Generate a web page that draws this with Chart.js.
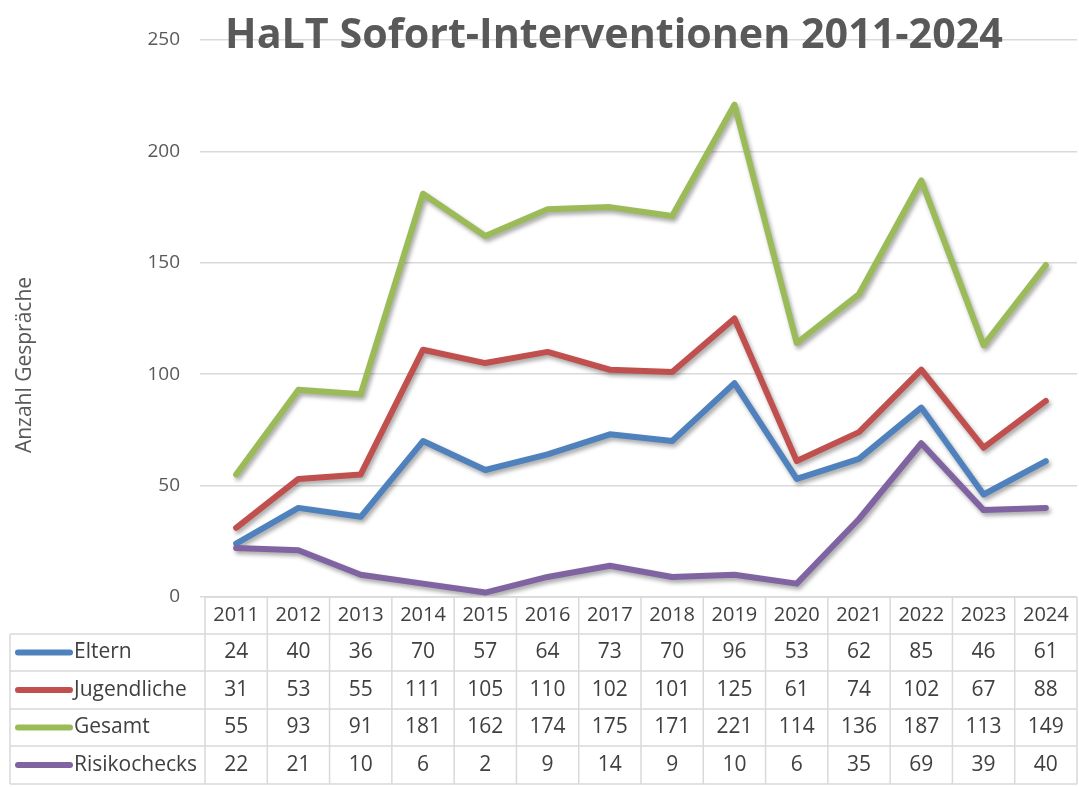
<!DOCTYPE html>
<html>
<head>
<meta charset="utf-8">
<script src="https://cdn.jsdelivr.net/npm/chart.js@4"></script>
<style>
  html, body { margin: 0; padding: 0; background: #fff; }
  #wrap { width: 1079px; height: 787px; }
</style>
</head>
<body>
<div id="wrap"><canvas id="halt" width="1079" height="787"></canvas></div>
<script>
const years = ['2011', '2012', '2013', '2014', '2015', '2016', '2017', '2018', '2019', '2020', '2021', '2022', '2023', '2024'];
const eltern = [24, 40, 36, 70, 57, 64, 73, 70, 96, 53, 62, 85, 46, 61];
const jugendliche = [31, 53, 55, 111, 105, 110, 102, 101, 125, 61, 74, 102, 67, 88];
const gesamt = [55, 93, 91, 181, 162, 174, 175, 171, 221, 114, 136, 187, 113, 149];
const risikochecks = [22, 21, 10, 6, 2, 9, 14, 9, 10, 6, 35, 69, 39, 40];
const yTicks = [0, 50, 100, 150, 200, 250];

const FONT = '"Open Sans", "Noto Sans", sans-serif';
const grey = '#595959';

const seriesInfo = [
  { label: 'Eltern', data: eltern, color: '#4F81BD' },
  { label: 'Jugendliche', data: jugendliche, color: '#C0504D' },
  { label: 'Gesamt', data: gesamt, color: '#9BBB59' },
  { label: 'Risikochecks', data: risikochecks, color: '#8064A2' }
];

// soft shadow under the lines like the Excel original
const lineShadow = {
  id: 'lineShadow',
  beforeDatasetDraw(chart) {
    const ctx = chart.ctx;
    ctx.save();
    ctx.shadowColor = 'rgba(0,0,0,0.35)';
    ctx.shadowBlur = 4;
    ctx.shadowOffsetX = 2;
    ctx.shadowOffsetY = 3;
  },
  afterDatasetDraw(chart) {
    chart.ctx.restore();
  }
};

// title on top of the 250 grid line, y axis title + data table under the plot
const tableAndTitle = {
  id: 'tableAndTitle',
  afterDraw(chart) {
    const ctx = chart.ctx;
    const x = chart.scales.x;
    const area = chart.chartArea;
    const colW = (area.right - area.left) / years.length;
    const tableLeft = 10;
    const rows = [597, 634, 671, 709, 746, 784];

    ctx.save();
    // title
    let size = 42;
    ctx.font = 'bold ' + size + 'px ' + FONT;
    const w = ctx.measureText('HaLT Sofort-Interventionen 2011-2024').width;
    size = size * 778 / w;
    ctx.font = 'bold ' + size + 'px ' + FONT;
    ctx.fillStyle = grey;
    ctx.textAlign = 'center';
    ctx.textBaseline = 'middle';
    ctx.fillText('HaLT Sofort-Interventionen 2011-2024', 614, 36);

    // y axis title
    ctx.save();
    ctx.translate(25, 365);
    ctx.rotate(-Math.PI / 2);
    ctx.font = '21px ' + FONT;
    ctx.fillStyle = grey;
    ctx.fillText('Anzahl Gespräche', 0, 0);
    ctx.restore();

    // grid of the table
    ctx.strokeStyle = '#d9d9d9';
    ctx.lineWidth = 1.5;
    ctx.beginPath();
    ctx.moveTo(area.left, rows[0]);
    ctx.lineTo(area.right, rows[0]);
    for (let r = 1; r < rows.length; r++) {
      ctx.moveTo(tableLeft, rows[r]);
      ctx.lineTo(area.right, rows[r]);
    }
    ctx.moveTo(tableLeft, rows[1]);
    ctx.lineTo(tableLeft, rows[rows.length - 1]);
    for (let i = 0; i <= years.length; i++) {
      const cx = area.left + i * colW;
      ctx.moveTo(cx, rows[0]);
      ctx.lineTo(cx, rows[rows.length - 1]);
    }
    ctx.stroke();

    // header years
    ctx.font = '20px ' + FONT;
    ctx.fillStyle = '#404040';
    ctx.textAlign = 'center';
    years.forEach((yr, i) => {
      ctx.fillText(yr, x.getPixelForValue(i), (rows[0] + rows[1]) / 2);
    });

    // series rows
    seriesInfo.forEach((s, r) => {
      const cy = (rows[r + 1] + rows[r + 2]) / 2;
      ctx.strokeStyle = s.color;
      ctx.lineWidth = 6;
      ctx.lineCap = 'round';
      ctx.beginPath();
      ctx.moveTo(18, cy);
      ctx.lineTo(70, cy);
      ctx.stroke();
      ctx.textAlign = 'left';
      ctx.fillStyle = '#404040';
      ctx.font = '21px ' + FONT;
      ctx.fillText(s.label, 74, cy);
      ctx.textAlign = 'center';
      s.data.forEach((v, i) => {
        ctx.fillText(String(v), x.getPixelForValue(i), cy);
      });
    });
    ctx.restore();
  }
};

new Chart(document.getElementById('halt'), {
  type: 'line',
  data: {
    labels: years,
    datasets: seriesInfo.map((s, i) => ({
      label: s.label,
      data: s.data,
      borderColor: s.color,
      backgroundColor: s.color,
      borderWidth: 6,
      pointRadius: 0,
      tension: 0,
      borderCapStyle: 'round',
      borderJoinStyle: 'round',
      order: seriesInfo.length - 1 - i
    }))
  },
  options: {
    responsive: false,
    animation: false,
    layout: { padding: { top: 40, bottom: 190, right: 2, left: 0 } },
    plugins: {
      legend: { display: false },
      tooltip: { enabled: false },
      title: { display: false }
    },
    scales: {
      x: {
        type: 'category',
        offset: true,
        display: false
      },
      y: {
        min: 0,
        max: 250,
        afterFit(scale) { scale.width = 205; },
        afterBuildTicks(scale) { scale.ticks = yTicks.map(v => ({ value: v })); },
        border: { display: false },
        grid: { color: '#d9d9d9', lineWidth: 1.5, tickLength: 5 },
        ticks: {
          padding: 20,
          color: grey,
          font: { family: FONT, size: 19 }
        }
      }
    }
  },
  plugins: [lineShadow, tableAndTitle]
});
</script>
</body>
</html>
